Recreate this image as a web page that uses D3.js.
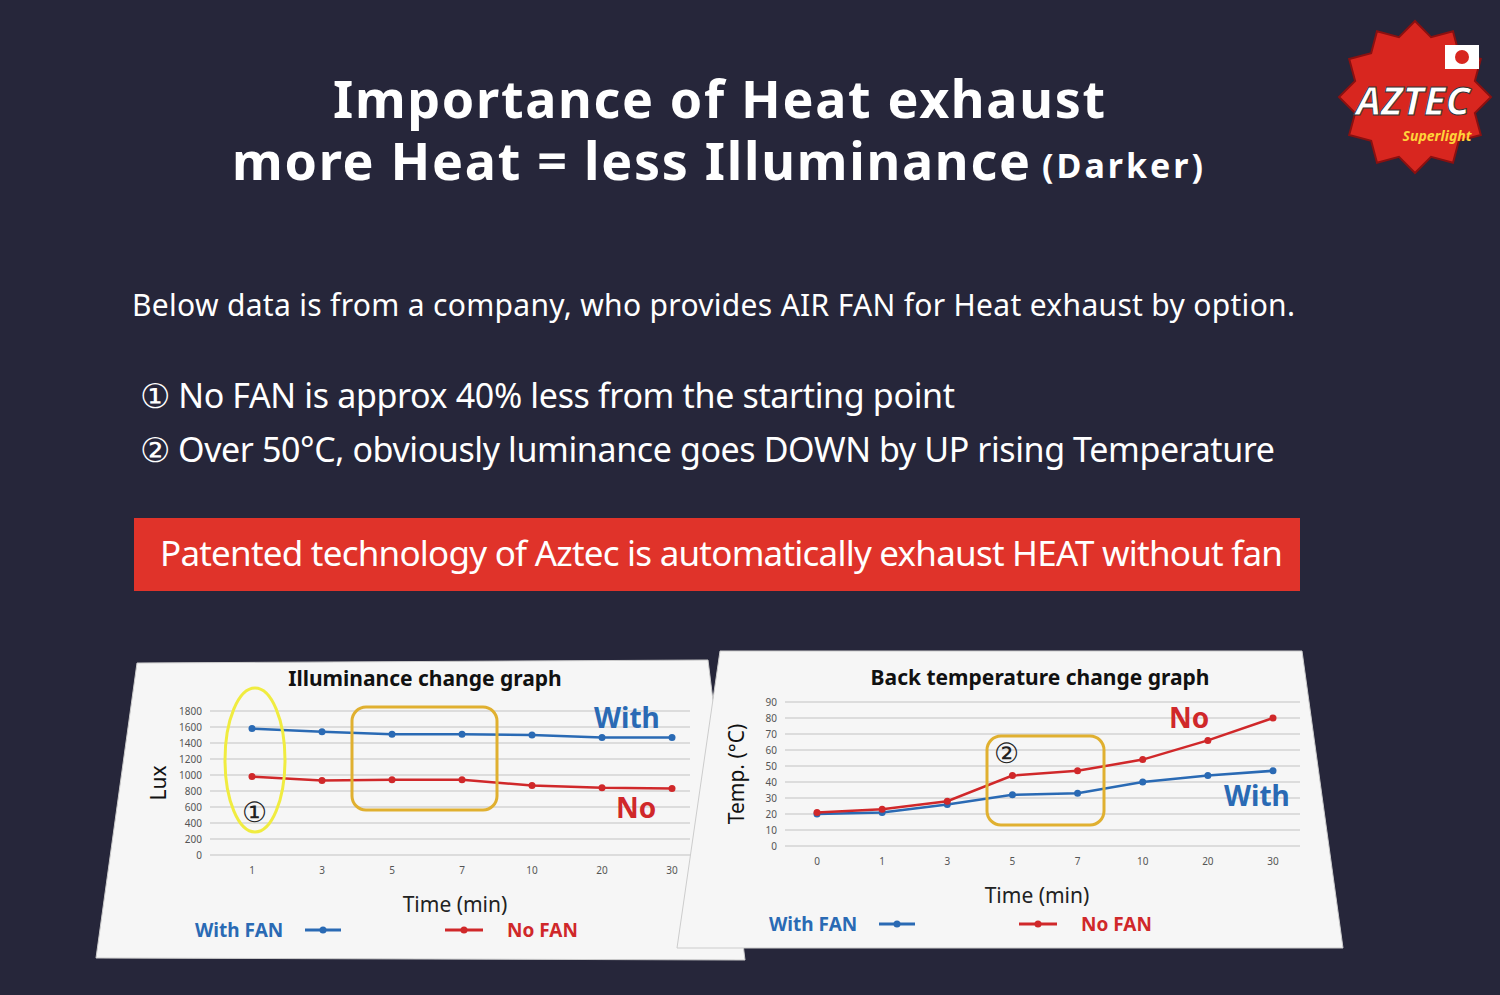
<!DOCTYPE html>
<html><head><meta charset="utf-8">
<script src="https://cdn.jsdelivr.net/npm/d3@7"></script>
<style>
body{margin:0;background:#26263a;}
text{font-family:"Noto Sans",sans-serif;}
</style></head>
<body><div id="chart"></div>
<script>
// data
let luxTimes = ["1", "3", "5", "7", "10", "20", "30"];
let luxWithFan = [1580, 1540, 1510, 1510, 1500, 1470, 1470];
let luxNoFan = [980, 930, 940, 940, 870, 840, 830];
let luxTicks = [0, 200, 400, 600, 800, 1000, 1200, 1400, 1600, 1800];

let tempTimes = ["0", "1", "3", "5", "7", "10", "20", "30"];
let tempWithFan = [20, 21, 26, 32, 33, 40, 44, 47];
let tempNoFan = [21, 23, 28, 44, 47, 54, 66, 80];
let tempTicks = [0, 10, 20, 30, 40, 50, 60, 70, 80, 90];

let width = 1500, height = 995;
let blue = "#2a6ab4", red = "#d0282a";

let svg = d3.select("#chart").append("svg")
    .attr("width", width).attr("height", height);

svg.append("rect").attr("width", width).attr("height", height).attr("fill", "#26263a");

// titles
svg.append("text").attr("x", 333).attr("y", 118)
    .attr("fill", "white").attr("font-size", 52).attr("font-weight", "bold")
    .attr("textLength", 772).attr("lengthAdjust", "spacing")
    .text("Importance of Heat exhaust");
svg.append("text").attr("x", 232).attr("y", 180)
    .attr("fill", "white").attr("font-size", 52).attr("font-weight", "bold")
    .attr("textLength", 798).attr("lengthAdjust", "spacing")
    .text("more Heat = less Illuminance");
svg.append("text").attr("x", 1042).attr("y", 178)
    .attr("fill", "white").attr("font-size", 34).attr("font-weight", "bold")
    .attr("textLength", 161).attr("lengthAdjust", "spacing")
    .text("(Darker)");

svg.append("text").attr("x", 132).attr("y", 316).attr("fill", "white")
    .attr("font-size", 30).attr("textLength", 1163).attr("lengthAdjust", "spacing")
    .text("Below data is from a company, who provides AIR FAN for Heat exhaust by option.");
svg.append("text").attr("x", 140).attr("y", 408).attr("fill", "white")
    .attr("font-size", 34).attr("textLength", 815).attr("lengthAdjust", "spacing")
    .text("① No FAN is approx 40% less from the starting point");
svg.append("text").attr("x", 140).attr("y", 462).attr("fill", "white")
    .attr("font-size", 34).attr("textLength", 1135).attr("lengthAdjust", "spacing")
    .text("② Over 50°C, obviously luminance goes DOWN by UP rising Temperature");

svg.append("rect").attr("x", 134).attr("y", 518).attr("width", 1166).attr("height", 73).attr("fill", "#e0332a");
svg.append("text").attr("x", 160).attr("y", 566).attr("fill", "white")
    .attr("font-size", 35).attr("textLength", 1123).attr("lengthAdjust", "spacing")
    .text("Patented technology of Aztec is automatically exhaust HEAT without fan");

// logo
let logo = svg.append("g").attr("transform", "translate(1415,97)");
let starPts = d3.range(24).map(i => {
    let a = i * Math.PI / 12, r = i % 2 ? 62 : 76;
    return [r * Math.cos(a), r * Math.sin(a)];
});
logo.append("polygon").attr("points", starPts.map(p => p.join(",")).join(" "))
    .attr("fill", "#d8261f").attr("stroke", "#8a1010").attr("stroke-width", 2);
logo.append("rect").attr("x", 30).attr("y", -52).attr("width", 34).attr("height", 24).attr("fill", "white");
logo.append("circle").attr("cx", 47).attr("cy", -40).attr("r", 7).attr("fill", "#d8261f");
logo.append("text").attr("x", -2).attr("y", 18).attr("text-anchor", "middle").attr("fill", "white")
    .attr("font-size", 40).attr("font-weight", "bold").attr("font-style", "italic")
    .attr("stroke", "#333").attr("stroke-width", 1).text("AZTEC");
logo.append("text").attr("x", 22).attr("y", 44).attr("text-anchor", "middle").attr("fill", "#ffd23a")
    .attr("font-size", 14).attr("font-weight", "bold").attr("font-style", "italic").text("Superlight");

function drawChart(cfg) {
    let g = svg.append("g");
    g.append("polygon").attr("points", cfg.panel.map(p => p.join(",")).join(" "))
        .attr("fill", "#f6f6f6").attr("stroke", "#ccc");
    let x = d3.scalePoint().domain(cfg.times).range(cfg.xr);
    let y = d3.scaleLinear().domain([0, cfg.ticks[cfg.ticks.length - 1]]).range(cfg.yr);
    cfg.ticks.forEach(t => {
        g.append("line").attr("x1", cfg.gx[0]).attr("x2", cfg.gx[1])
            .attr("y1", y(t)).attr("y2", y(t)).attr("stroke", "#dcdcdc").attr("stroke-width", 2);
        g.append("text").attr("x", cfg.gx[0] - 8).attr("y", y(t) + 4).attr("text-anchor", "end")
            .attr("font-size", 10).attr("fill", "#555").attr("font-family", "DejaVu Serif").text(t);
    });
    cfg.times.forEach(t => {
        g.append("text").attr("x", x(t)).attr("y", cfg.yr[0] + 19).attr("text-anchor", "middle")
            .attr("font-size", 10).attr("fill", "#555").attr("font-family", "DejaVu Serif").text(t);
    });
    let line = d3.line().x((d, i) => x(cfg.times[i])).y(d => y(d));
    [[cfg.withFan, blue], [cfg.noFan, red]].forEach(([vals, c]) => {
        g.append("path").datum(vals).attr("d", line).attr("fill", "none")
            .attr("stroke", c).attr("stroke-width", 2.5);
        g.selectAll(null).data(vals).enter().append("circle")
            .attr("cx", (d, i) => x(cfg.times[i])).attr("cy", d => y(d)).attr("r", 3.5).attr("fill", c);
    });
    g.append("text").attr("x", cfg.titleX).attr("y", cfg.titleY).attr("text-anchor", "middle")
        .attr("font-size", 21).attr("font-weight", "bold").attr("fill", "#111").text(cfg.title);
    g.append("text").attr("transform", `translate(${cfg.yLabelX},${(cfg.yr[0] + cfg.yr[1]) / 2}) rotate(-90)`)
        .attr("text-anchor", "middle").attr("font-size", 21).attr("fill", "#111").text(cfg.yLabel);
    g.append("text").attr("x", cfg.xLabelX).attr("y", cfg.yr[0] + 57).attr("text-anchor", "middle")
        .attr("font-size", 21).attr("fill", "#222").text("Time (min)");
    // legend
    let ly = cfg.legendY;
    g.append("text").attr("x", cfg.legendX).attr("y", ly + 7).attr("font-size", 19)
        .attr("font-weight", "bold").attr("fill", blue).text("With FAN");
    g.append("line").attr("x1", cfg.legendX + 110).attr("x2", cfg.legendX + 146).attr("y1", ly).attr("y2", ly)
        .attr("stroke", blue).attr("stroke-width", 3);
    g.append("circle").attr("cx", cfg.legendX + 128).attr("cy", ly).attr("r", 3.5).attr("fill", blue);
    g.append("line").attr("x1", cfg.legendX + 250).attr("x2", cfg.legendX + 288).attr("y1", ly).attr("y2", ly)
        .attr("stroke", red).attr("stroke-width", 3);
    g.append("circle").attr("cx", cfg.legendX + 269).attr("cy", ly).attr("r", 3.5).attr("fill", red);
    g.append("text").attr("x", cfg.legendX + 312).attr("y", ly + 7).attr("font-size", 19)
        .attr("font-weight", "bold").attr("fill", red).text("No FAN");
    // annotations
    cfg.labels.forEach(l => g.append("text").attr("x", l[0]).attr("y", l[1]).attr("font-size", 28)
        .attr("font-weight", "bold").attr("fill", l[3]).text(l[2]));
    g.append("rect").attr("x", cfg.box[0]).attr("y", cfg.box[1]).attr("width", cfg.box[2]).attr("height", cfg.box[3])
        .attr("rx", 14).attr("fill", "none").attr("stroke", "#e0b030").attr("stroke-width", 3);
    g.append("text").attr("x", cfg.circ[0]).attr("y", cfg.circ[1]).attr("font-size", 28)
        .attr("fill", "#222").text(cfg.circ[2]);
    return g;
}

let g1 = drawChart({
    panel: [[137, 663], [708, 660], [745, 960], [96, 958]],
    times: luxTimes, withFan: luxWithFan, noFan: luxNoFan, ticks: luxTicks,
    xr: [252, 672], yr: [855, 711], gx: [210, 690],
    title: "Illuminance change graph", titleX: 425, titleY: 686,
    yLabel: "Lux", yLabelX: 166, xLabelX: 455, legendX: 195, legendY: 930,
    labels: [[594, 728, "With", blue], [616, 818, "No", red]],
    box: [352, 707, 145, 103], circ: [242, 822, "①"]
});
g1.append("ellipse").attr("cx", 255).attr("cy", 760).attr("rx", 30).attr("ry", 72)
    .attr("fill", "none").attr("stroke", "#f0ec40").attr("stroke-width", 3);

let g2 = drawChart({
    panel: [[720, 651], [1302, 651], [1343, 948], [677, 948]],
    times: tempTimes, withFan: tempWithFan, noFan: tempNoFan, ticks: tempTicks,
    xr: [817, 1273], yr: [846, 702], gx: [785, 1300],
    title: "Back temperature change graph", titleX: 1040, titleY: 685,
    yLabel: "Temp. (°C)", yLabelX: 744, xLabelX: 1037, legendX: 769, legendY: 924,
    labels: [[1169, 728, "No", red], [1224, 806, "With", blue]],
    box: [987, 736, 117, 89], circ: [994, 763, "②"]
});
</script>
</body></html>
